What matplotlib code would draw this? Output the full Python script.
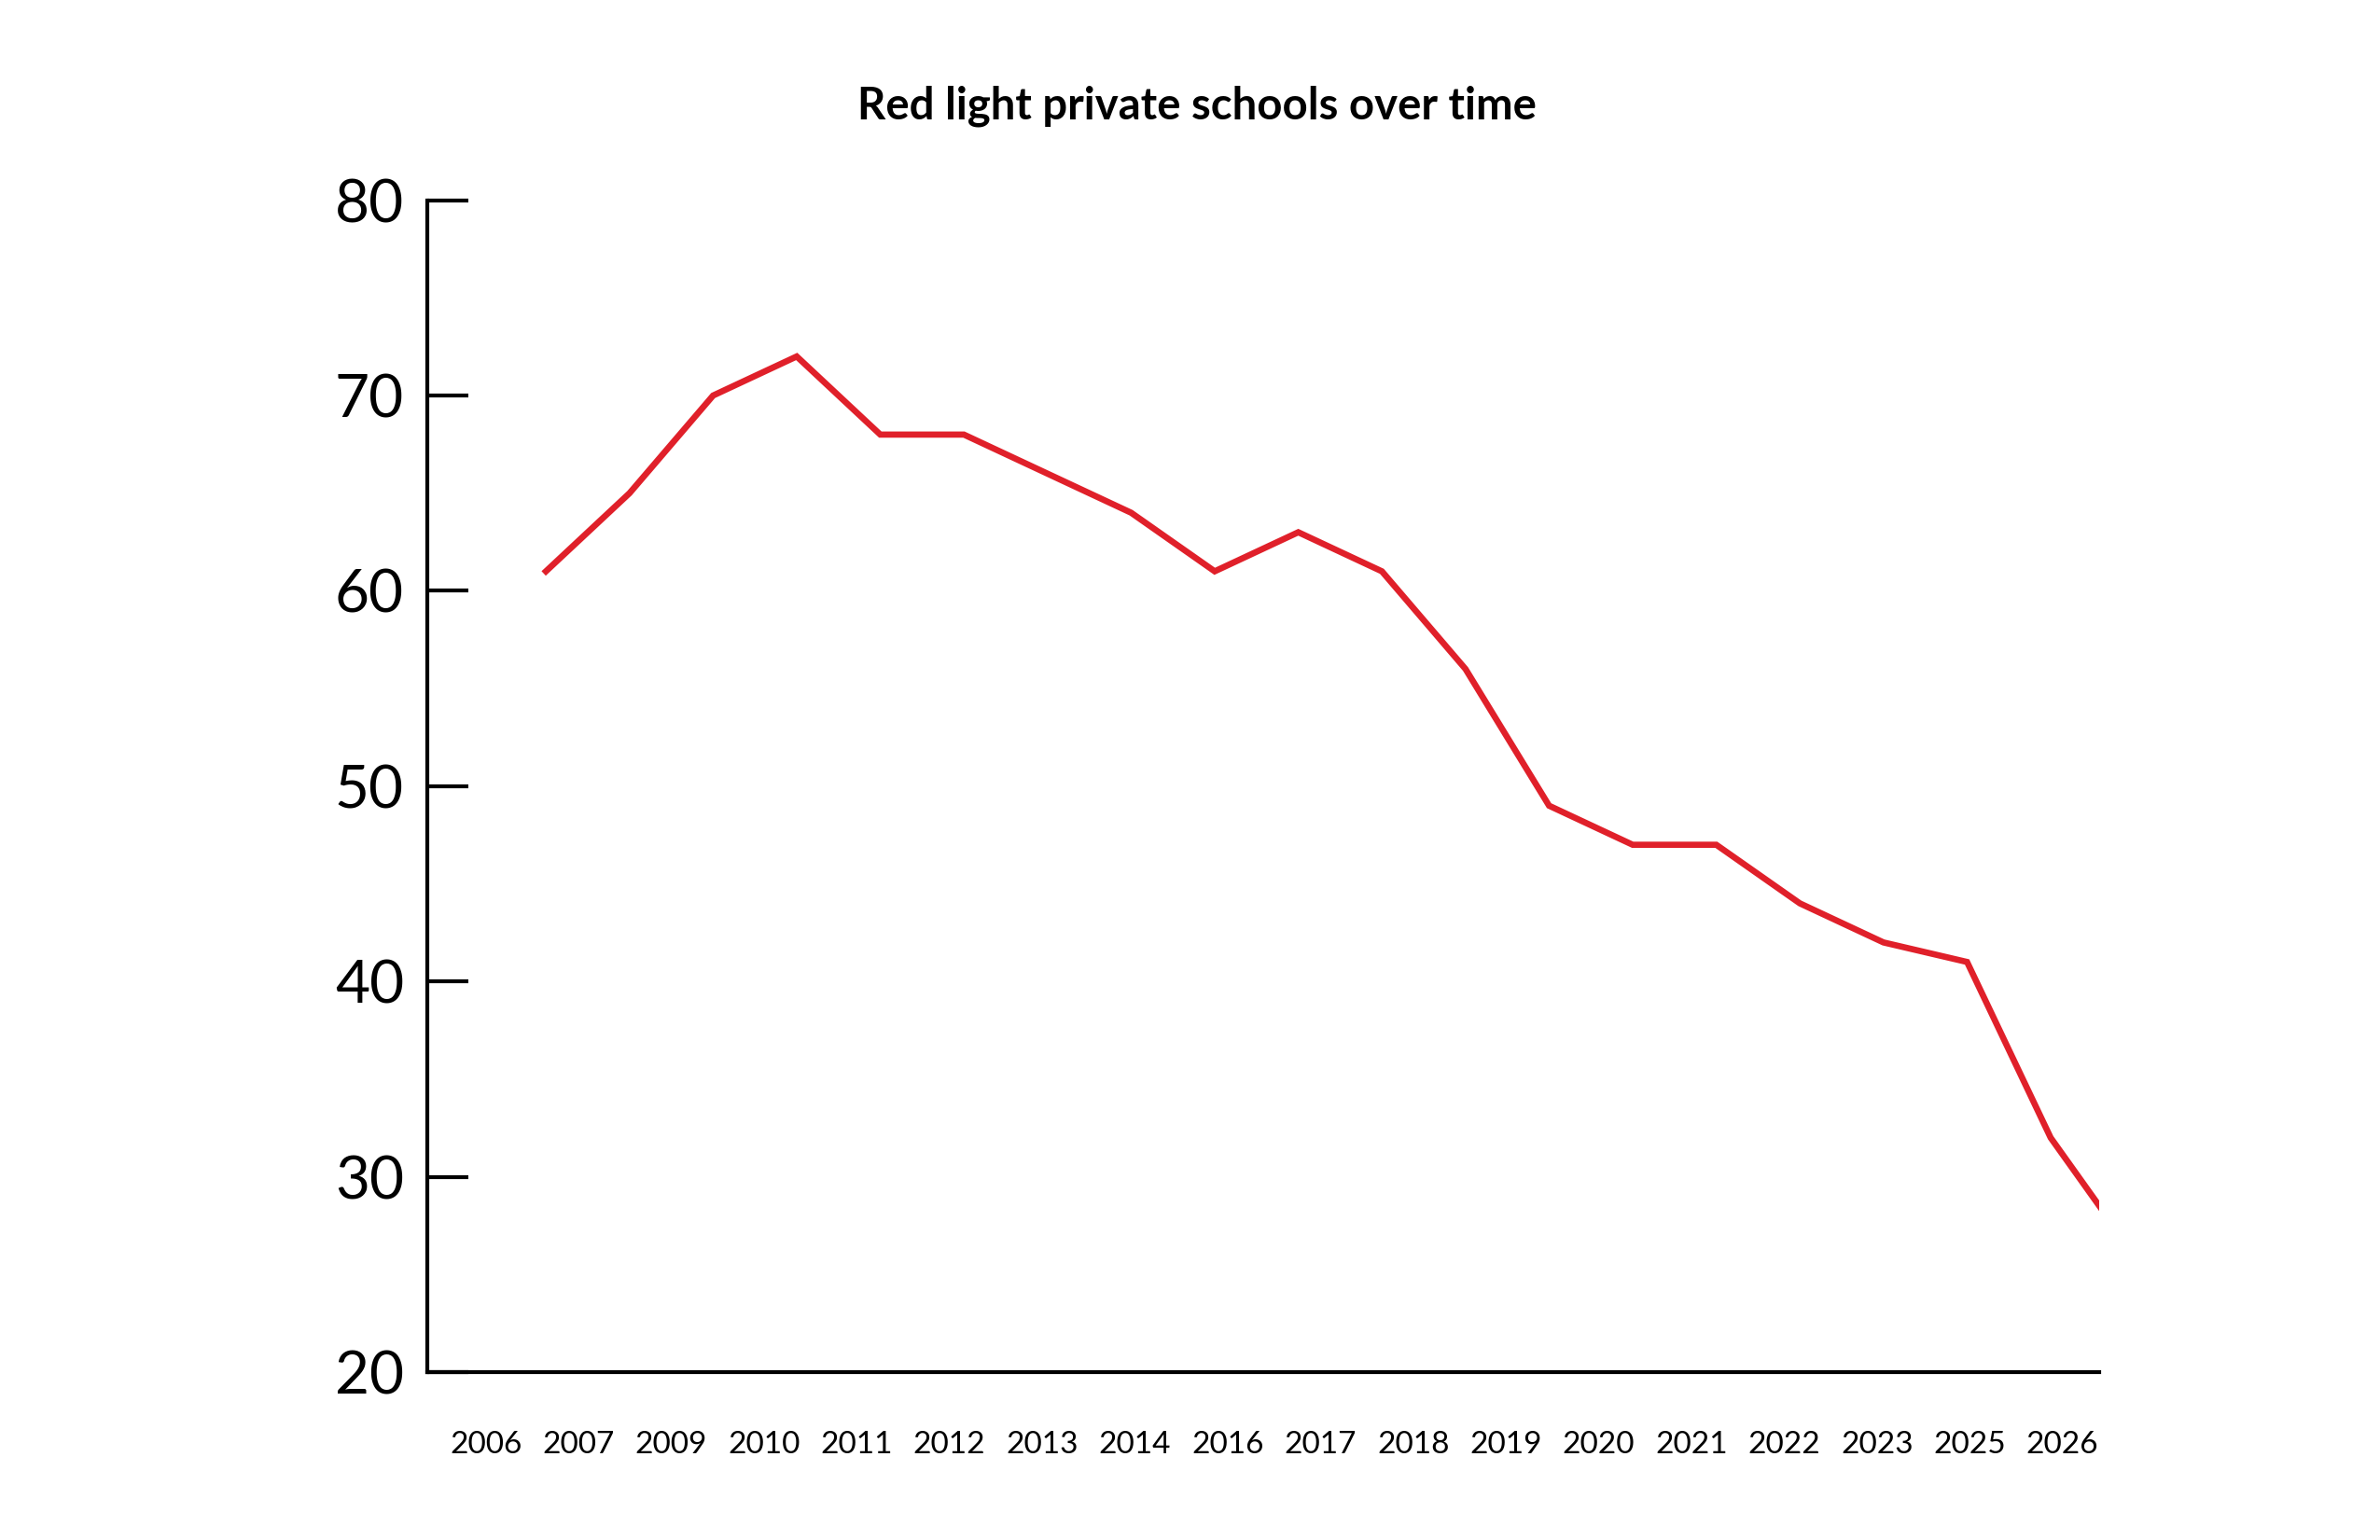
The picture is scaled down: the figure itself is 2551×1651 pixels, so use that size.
import numpy as np
import matplotlib.pyplot as plt

# values, one per step
values = [61, 65, 70, 72, 68, 68, 66, 64, 61, 63, 61, 56, 49, 47, 47, 44, 42, 41, 32, 26]
year_labels = ["2006", "2007", "2009", "2010", "2011", "2012", "2013", "2014", "2016",
               "2017", "2018", "2019", "2020", "2021", "2022", "2023", "2025", "2026"]
y_ticks = [20, 30, 40, 50, 60, 70, 80]

plt.rcParams['font.family'] = ['Lato', 'DejaVu Sans']

fig = plt.figure(figsize=(25.51, 16.51), dpi=100)
ax = fig.add_axes([0.1795, 0.109, 0.7025, 0.761])

x = np.arange(len(values))
ax.plot(x, values, color="#e0202a", linewidth=4.8, solid_joinstyle="miter")

xmin, xmax = -1.42, 18.58
ax.set_xlim(xmin, xmax)
ax.set_ylim(20, 80)

# year labels are spread evenly along the bottom, not tied to the points
span = xmax - xmin
ax.set_xticks(np.linspace(xmin + 0.035 * span, xmin + 0.978 * span, len(year_labels)))
ax.set_xticklabels(year_labels, fontsize=24)
ax.tick_params(axis="x", length=0, pad=45)

ax.set_yticks(y_ticks)
ax.set_yticklabels([str(v) for v in y_ticks], fontsize=46)
ax.tick_params(axis="y", direction="in", length=32, width=3, pad=18)

for s in ["top", "right"]:
    ax.spines[s].set_visible(False)
for s in ["left", "bottom"]:
    ax.spines[s].set_linewidth(3)

fig.text(0.503, 0.931, "Red light private schools over time", ha="center", va="center",
         fontsize=34, fontweight="bold")

fig.savefig("out.png", dpi=100, facecolor="white")
